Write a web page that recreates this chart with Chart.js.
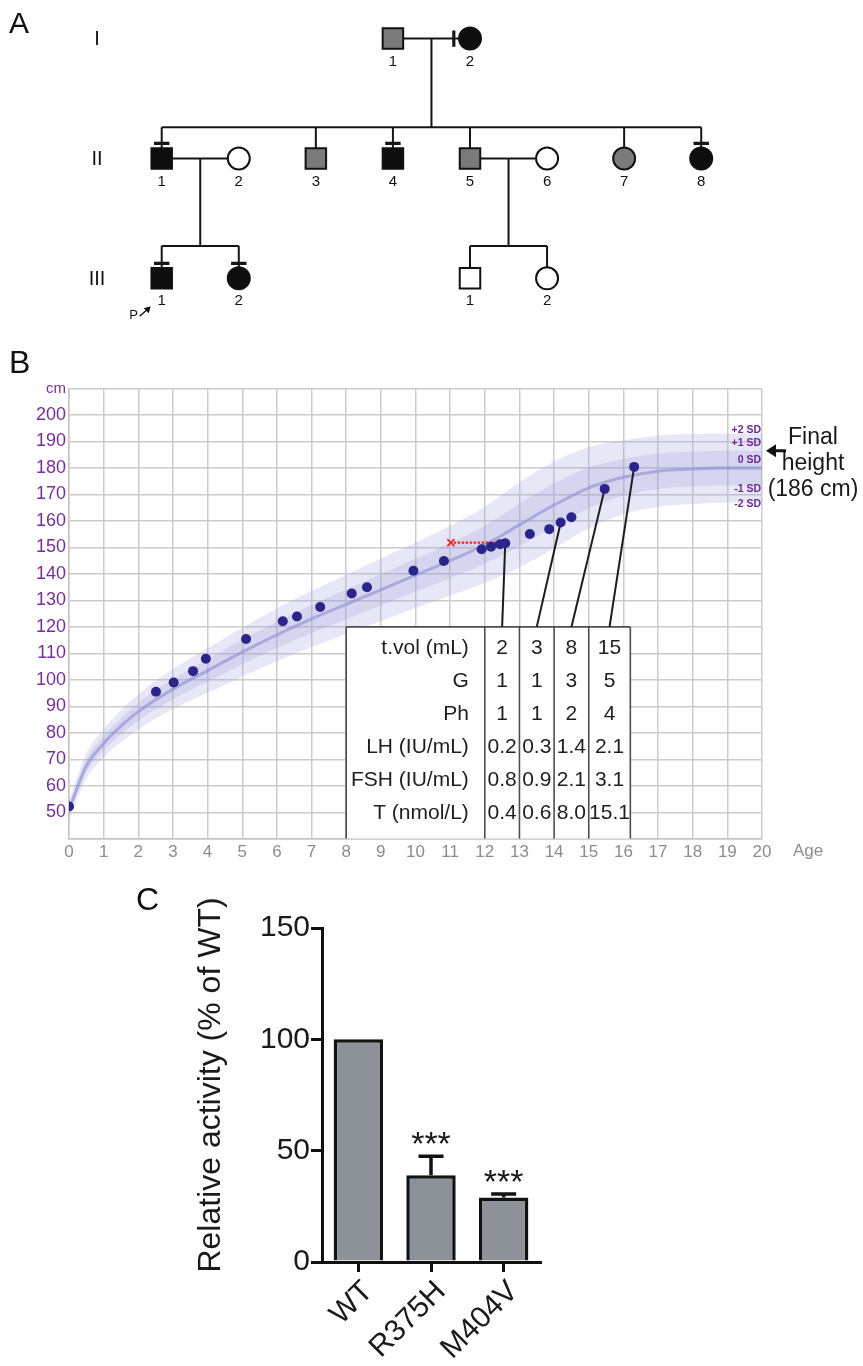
<!DOCTYPE html>
<html>
<head>
<meta charset="utf-8">
<script src="https://cdn.jsdelivr.net/npm/chart.js@4.4.1/dist/chart.umd.min.js"></script>
<style>
    html, body { margin: 0; padding: 0; background: #fff; }
    body { width: 863px; height: 1366px; position: relative; overflow: hidden; font-family: "Liberation Sans", Arial, sans-serif; }
    canvas { position: absolute; left: 0; }
    .panel { position: absolute; color: #111; line-height: 1; }
    .note { position: absolute; color: #1a1a1a; font-size: 23px; line-height: 26px; text-align: center; }
</style>
</head>
<body>
<canvas id="pedigreeChart" width="863" height="335" style="top:0;width:863px;height:335px"></canvas>
<canvas id="growthChart" width="863" height="530" style="top:335px;width:863px;height:530px"></canvas>
<canvas id="activityChart" width="863" height="506" style="top:860px;width:863px;height:506px"></canvas>
<div class="panel" style="left:9px;top:8px;font-size:30px">A</div>
<div class="panel" style="left:9px;top:346px;font-size:32px">B</div>
<div class="panel" style="left:136px;top:883px;font-size:32px">C</div>
<div class="note" style="left:763px;top:423px;width:100px">Final<br>height<br>(186 cm)</div>
<script>
// Panel A - pedigree (slot = horizontal position, gen = generation row)
const pedSlot  = [4, 5, 1, 2, 3, 4, 5, 6, 7, 8, 1, 2, 5, 6];
const pedGen   = [1, 1, 2, 2, 2, 2, 2, 2, 2, 2, 3, 3, 3, 3];
const pedSex   = ['M', 'F', 'M', 'F', 'M', 'M', 'M', 'F', 'F', 'F', 'M', 'F', 'M', 'F'];
const pedShade = ['grey', 'black', 'black', 'white', 'grey', 'black', 'grey', 'white', 'grey', 'black', 'black', 'black', 'white', 'white'];
const pedLabel = ['1', '2', '1', '2', '3', '4', '5', '6', '7', '8', '1', '2', '1', '2'];
const pedCarrier = ['', 'v', 'h', '', '', 'h', '', '', '', 'h', 'h', 'h', '', ''];
const genLabels = ['I', 'II', 'III'];
const pedLines = [
    [4, 1, 5, 1], [4.5, 1, 4.5, 1.74], [1, 1.74, 8, 1.74],
    [1, 1.74, 1, 2], [3, 1.74, 3, 2], [4, 1.74, 4, 2], [5, 1.74, 5, 2], [7, 1.74, 7, 2], [8, 1.74, 8, 2],
    [1, 2, 2, 2], [1.5, 2, 1.5, 2.73], [1, 2.73, 2, 2.73], [1, 2.73, 1, 3], [2, 2.73, 2, 3],
    [5, 2, 6, 2], [5.5, 2, 5.5, 2.73], [5, 2.73, 6, 2.73], [5, 2.73, 5, 3], [6, 2.73, 6, 3]
];

// Panel B - growth reference (cm) by age (years)
const refAge    = [0, 0.5, 1, 1.5, 2, 3, 4, 5, 6, 7, 8, 9, 10, 11, 12, 13, 14, 15, 16, 17, 18, 19, 20];
const refPlus2  = [54.6, 72.3, 81.4, 88.5, 94.6, 104.1, 111.9, 119.7, 127, 133.6, 139.7, 145.8, 151.9, 158.2, 165.4, 174.5, 182.4, 187.9, 190.5, 192.2, 192.8, 193, 193];
const refPlus1  = [52.8, 69.9, 78.7, 85.5, 91.3, 100.3, 107.7, 115.1, 122, 128.3, 134.1, 139.9, 145.7, 151.6, 158.2, 166.5, 174.2, 180.2, 183.5, 185.5, 186.2, 186.5, 186.5];
const refMedian = [51, 67.5, 76, 82.5, 88, 96.5, 103.5, 110.5, 117, 123, 128.5, 134, 139.5, 145, 151, 158.5, 166, 172.5, 176.5, 178.8, 179.6, 180, 180];
const refMinus1 = [49.2, 65.1, 73.3, 79.5, 84.7, 92.7, 99.3, 105.9, 112, 117.7, 122.9, 128.1, 133.3, 138.4, 143.8, 150.5, 157.8, 164.8, 169.5, 172.1, 173, 173.5, 173.5];
const refMinus2 = [47.4, 62.7, 70.6, 76.5, 81.4, 88.9, 95.1, 101.3, 107, 112.4, 117.3, 122.2, 127.1, 131.8, 136.6, 142.5, 149.6, 157.1, 162.5, 165.4, 166.4, 167, 167];

const patientAge    = [0, 2.51, 3.02, 3.58, 3.95, 5.11, 6.17, 6.58, 7.25, 8.16, 8.6, 9.94, 10.82, 11.91, 12.18, 12.44, 12.59, 13.3, 13.86, 14.19, 14.5, 15.46, 16.31];
const patientHeight = [52.2, 95.5, 99, 103.3, 108, 115.4, 122.1, 123.9, 127.5, 132.6, 135, 141.2, 144.9, 149.3, 150.3, 151.2, 151.6, 155.1, 156.9, 159.4, 161.4, 172.1, 180.4];
const boneAgeRange  = [11.02, 12.38];
const boneAgeHeight = 151.8;
const linkedVisits  = [16, 19, 21, 22];

const sdLabels = ['+2 SD', '+1 SD', '0 SD', '-1 SD', '-2 SD'];
const tableColEdges = [8, 12, 13, 14, 15, 16.2];
const tableTop = 120;
const tableRowLabels = ['t.vol (mL)', 'G', 'Ph', 'LH (IU/mL)', 'FSH (IU/mL)', 'T (nmol/L)'];
const tableValues = [
    ['2', '1', '1', '0.2', '0.8', '0.4'],
    ['3', '1', '1', '0.3', '0.9', '0.6'],
    ['8', '3', '2', '1.4', '2.1', '8.0'],
    ['15', '5', '4', '2.1', '3.1', '15.1']
];

// Panel C - relative activity
const variantLabels = ['WT', 'R375H', 'M404V'];
const activityMean  = [100, 39, 29];
const activityErr   = [0, 8.5, 1.5];
const sigMarks      = ['', '***', '***'];

const FONT = '"Liberation Sans", Arial, sans-serif';
Chart.defaults.font.family = FONT;
Chart.defaults.animation = false;
Chart.defaults.responsive = false;
Chart.defaults.events = [];
Chart.defaults.plugins.legend.display = false;
Chart.defaults.plugins.tooltip.enabled = false;

function segment(x1, y1, x2, y2, color, width, order, extra) {
    return Object.assign({
        type: 'scatter',
        data: [{ x: x1, y: y1 }, { x: x2, y: y2 }],
        showLine: true,
        borderColor: color,
        borderWidth: width,
        pointRadius: 0,
        fill: false,
        order: order
    }, extra || {});
}

// ---------- Pedigree ----------
const shadeColor = { grey: '#7b7b7b', black: '#0e0e0e', white: '#ffffff' };

function buildPedigree() {
    const datasets = [];
    pedLines.forEach(l => datasets.push(segment(l[0], l[1], l[2], l[3], '#151515', 2, 5)));

    pedCarrier.forEach((mark, i) => {
        if (mark === 'h') {
            datasets.push(segment(pedSlot[i] - 0.1, pedGen[i] - 0.125, pedSlot[i] + 0.1, pedGen[i] - 0.125, '#151515', 3.2, 4));
        } else if (mark === 'v') {
            datasets.push(segment(pedSlot[i] - 0.21, pedGen[i] - 0.068, pedSlot[i] - 0.21, pedGen[i] + 0.068, '#151515', 3.2, 4));
        }
    });

    const squares = [], squareFill = [], circles = [], circleFill = [];
    pedSlot.forEach((s, i) => {
        const p = { x: s, y: pedGen[i] };
        if (pedSex[i] === 'M') { squares.push(p); squareFill.push(shadeColor[pedShade[i]]); }
        else { circles.push(p); circleFill.push(shadeColor[pedShade[i]]); }
    });
    datasets.push({ type: 'scatter', data: squares, pointStyle: 'rect', pointRadius: 14.5, pointBackgroundColor: squareFill, pointBorderColor: '#111', pointBorderWidth: 2, order: 0 });
    datasets.push({ type: 'scatter', data: circles, pointStyle: 'circle', pointRadius: 11, pointBackgroundColor: circleFill, pointBorderColor: '#111', pointBorderWidth: 2, order: 0 });

    const labelPlugin = {
        id: 'pedLabels',
        afterDatasetsDraw(chart) {
            const { ctx, scales: { x, y } } = chart;
            ctx.save();
            ctx.fillStyle = '#111';
            ctx.textAlign = 'center';
            ctx.textBaseline = 'middle';
            ctx.font = '15px ' + FONT;
            pedSlot.forEach((s, i) => {
                ctx.fillText(pedLabel[i], x.getPixelForValue(s), y.getPixelForValue(pedGen[i]) + 23);
            });
            ctx.font = '20px ' + FONT;
            genLabels.forEach((g, i) => ctx.fillText(g, x.getPixelForValue(0.16), y.getPixelForValue(i + 1) + 1));

            // proband arrow next to III-1
            const px = x.getPixelForValue(1), py = y.getPixelForValue(3);
            ctx.font = '13px ' + FONT;
            ctx.fillText('P', px - 28, py + 37);
            ctx.strokeStyle = '#111';
            ctx.lineWidth = 1.3;
            ctx.beginPath();
            ctx.moveTo(px - 22, py + 38);
            ctx.lineTo(px - 13, py + 30);
            ctx.stroke();
            ctx.beginPath();
            ctx.moveTo(px - 11, py + 28);
            ctx.lineTo(px - 18, py + 30);
            ctx.lineTo(px - 13, py + 35);
            ctx.closePath();
            ctx.fill();
            ctx.restore();
        }
    };

    new Chart(document.getElementById('pedigreeChart'), {
        type: 'scatter',
        data: { datasets: datasets },
        options: {
            layout: { padding: 0 },
            scales: {
                x: { type: 'linear', display: false, min: -0.884, max: 9.885 },
                y: { type: 'linear', display: false, min: 0.816, max: 3.335, reverse: true }
            }
        },
        plugins: [labelPlugin]
    });
}

// ---------- Growth chart ----------
function buildGrowth() {
    const toXY = (xs, ys) => xs.map((v, i) => ({ x: v, y: ys[i] }));
    const datasets = [];
    const refLine = (ys, extra) => Object.assign({
        type: 'line', data: toXY(refAge, ys), pointRadius: 0,
        cubicInterpolationMode: 'monotone', borderWidth: 0, borderColor: 'transparent'
    }, extra);

    datasets.push({
        type: 'scatter', data: toXY(patientAge, patientHeight),
        pointRadius: 5, pointBackgroundColor: '#2b2489', pointBorderColor: '#2b2489', pointBorderWidth: 0, order: 0
    });
    datasets.push({
        type: 'scatter', data: [{ x: boneAgeRange[0], y: boneAgeHeight }],
        pointStyle: 'crossRot', pointRadius: 5, pointBorderColor: '#f02a1e', pointBorderWidth: 1.8, order: 0
    });
    datasets.push(segment(boneAgeRange[0] + 0.08, boneAgeHeight, boneAgeRange[1], boneAgeHeight, '#f02a1e', 2.4, 1, { borderDash: [2.5, 1.5] }));

    linkedVisits.forEach((vi, k) => {
        const cx = (tableColEdges[k + 1] + tableColEdges[k + 2]) / 2;
        datasets.push(segment(patientAge[vi], patientHeight[vi], cx, tableTop, '#1c1c1c', 2, 1));
    });

    // table box
    const tLeft = tableColEdges[0], tRight = tableColEdges[tableColEdges.length - 1];
    datasets.push(segment(tLeft, tableTop, tRight, tableTop, '#4d4d4d', 1.6, 2));
    tableColEdges.forEach(c => datasets.push(segment(c, tableTop, c, 40, '#4d4d4d', 1.6, 2)));
    datasets.push(segment(tLeft, tableTop, tRight, tableTop, 'transparent', 0, 3, { fill: 'start', backgroundColor: '#ffffff' }));

    datasets.push(refLine(refMedian, { borderWidth: 3, borderColor: 'rgba(140,140,208,0.6)', order: 4 }));
    const minus1Index = datasets.push(refLine(refMinus1, { order: 5 })) - 1;
    datasets.push(refLine(refPlus1, { order: 5, fill: minus1Index, backgroundColor: 'rgba(150,150,215,0.22)' }));
    const minus2Index = datasets.push(refLine(refMinus2, { order: 6 })) - 1;
    datasets.push(refLine(refPlus2, { order: 6, fill: minus2Index, backgroundColor: 'rgba(160,160,222,0.25)' }));

    const sdLabelValues = [194.2, 189.3, 182.9, 172.2, 166.3];

    const annotations = {
        id: 'growthText',
        afterDatasetsDraw(chart) {
            const { ctx, chartArea, scales: { x, y } } = chart;
            ctx.save();
            // table text
            ctx.fillStyle = '#1e1e1e';
            ctx.font = '21px ' + FONT;
            ctx.textBaseline = 'middle';
            tableRowLabels.forEach((lab, r) => {
                const py = y.getPixelForValue(tableTop - 8 - r * 12.5);
                ctx.textAlign = 'right';
                ctx.fillText(lab, x.getPixelForValue(tableColEdges[1] - 0.46), py);
                ctx.textAlign = 'center';
                tableValues.forEach((col, c) => {
                    const cx = (tableColEdges[c + 1] + tableColEdges[c + 2]) / 2;
                    ctx.fillText(col[r], x.getPixelForValue(cx), py);
                });
            });
            // SD labels
            ctx.fillStyle = '#6d2a92';
            ctx.font = 'bold 10.5px ' + FONT;
            ctx.textAlign = 'right';
            sdLabels.forEach((s, i) => ctx.fillText(s, chartArea.right - 1, y.getPixelForValue(sdLabelValues[i])));
            // Age label
            ctx.fillStyle = '#8c8c8c';
            ctx.font = '17px ' + FONT;
            ctx.textAlign = 'center';
            ctx.textBaseline = 'top';
            ctx.fillText('Age', chartArea.right + 46, chartArea.bottom + 4);
            // arrow towards final height
            const ay = y.getPixelForValue(186.5);
            const ax = chartArea.right + 4;
            ctx.fillStyle = '#111';
            ctx.strokeStyle = '#111';
            ctx.lineWidth = 3;
            ctx.beginPath();
            ctx.moveTo(ax + 6, ay);
            ctx.lineTo(ax + 20, ay);
            ctx.stroke();
            ctx.beginPath();
            ctx.moveTo(ax, ay);
            ctx.lineTo(ax + 10, ay - 6.5);
            ctx.lineTo(ax + 10, ay + 6.5);
            ctx.closePath();
            ctx.fill();
            ctx.restore();
        }
    };

    new Chart(document.getElementById('growthChart'), {
        type: 'scatter',
        data: { datasets: datasets },
        options: {
            layout: { padding: { top: 53.5, right: 101, left: 0, bottom: 0 } },
            scales: {
                x: {
                    type: 'linear', min: 0, max: 20,
                    afterFit: s => { s.height = 26.2; },
                    ticks: { stepSize: 1, color: '#8c8c8c', font: { size: 17 }, padding: 3, maxRotation: 0 },
                    grid: { color: '#cbcbcb', lineWidth: 1.5, drawTicks: false },
                    border: { color: '#c4c4c4', width: 1.5 }
                },
                y: {
                    type: 'linear', min: 40, max: 210,
                    afterFit: s => { s.width = 69; },
                    ticks: {
                        stepSize: 10, color: '#74309a', padding: 3,
                        font: ctx => ({ size: ctx.tick && ctx.tick.value === 210 ? 15 : 18 }),
                        callback: v => v === 210 ? 'cm' : (v === 40 ? '' : v)
                    },
                    grid: { color: '#cbcbcb', lineWidth: 1.5, drawTicks: false },
                    border: { color: '#c4c4c4', width: 1.5 }
                }
            }
        },
        plugins: [annotations]
    });
}

// ---------- Activity bar chart ----------
function buildActivity() {
    const errorBars = {
        id: 'errorBars',
        afterDatasetsDraw(chart) {
            const { ctx, chartArea, scales: { y } } = chart;
            const meta = chart.getDatasetMeta(0);
            ctx.save();
            ctx.strokeStyle = '#111';
            ctx.fillStyle = '#1a1a1a';
            ctx.lineWidth = 3.5;
            ctx.font = '34px ' + FONT;
            ctx.textAlign = 'center';
            ctx.textBaseline = 'alphabetic';
            meta.data.forEach((bar, i) => {
                const top = y.getPixelForValue(activityMean[i] + activityErr[i]);
                if (activityErr[i] > 0) {
                    ctx.beginPath();
                    ctx.moveTo(bar.x, y.getPixelForValue(activityMean[i]));
                    ctx.lineTo(bar.x, top);
                    ctx.moveTo(bar.x - 12.5, top);
                    ctx.lineTo(bar.x + 12.5, top);
                    ctx.stroke();
                }
                if (sigMarks[i]) ctx.fillText(sigMarks[i], bar.x, top - 1);
            });
            // y axis title
            ctx.fillStyle = '#1a1a1a';
            ctx.font = '32px ' + FONT;
            ctx.textBaseline = 'middle';
            ctx.translate(chartArea.left - 111, (chartArea.top + chartArea.bottom) / 2 - 10);
            ctx.rotate(-Math.PI / 2);
            ctx.fillText('Relative activity (% of WT)', 0, 0);
            ctx.restore();
        }
    };

    new Chart(document.getElementById('activityChart'), {
        type: 'bar',
        data: {
            labels: variantLabels,
            datasets: [{
                data: activityMean,
                backgroundColor: '#8d9298',
                borderColor: '#121212',
                borderWidth: 3.5,
                categoryPercentage: 1,
                barPercentage: 0.68
            }]
        },
        options: {
            layout: { padding: { top: 68, right: 323, left: 180, bottom: 0 } },
            scales: {
                x: {
                    afterFit: s => { s.height = 104; },
                    ticks: { color: '#1a1a1a', font: { size: 30 }, maxRotation: 45, minRotation: 45, padding: 2, labelOffset: 10 },
                    grid: { offset: false, drawOnChartArea: false, tickLength: 10, color: '#111', lineWidth: 3 },
                    border: { color: '#111', width: 3 }
                },
                y: {
                    min: 0, max: 150,
                    afterFit: s => { s.width = 142; },
                    ticks: { stepSize: 50, color: '#1a1a1a', font: { size: 30 }, padding: 1 },
                    grid: { drawOnChartArea: false, tickLength: 11, color: '#111', lineWidth: 3 },
                    border: { color: '#111', width: 3 }
                }
            }
        },
        plugins: [errorBars]
    });
}

buildPedigree();
buildGrowth();
buildActivity();
</script>
</body>
</html>
